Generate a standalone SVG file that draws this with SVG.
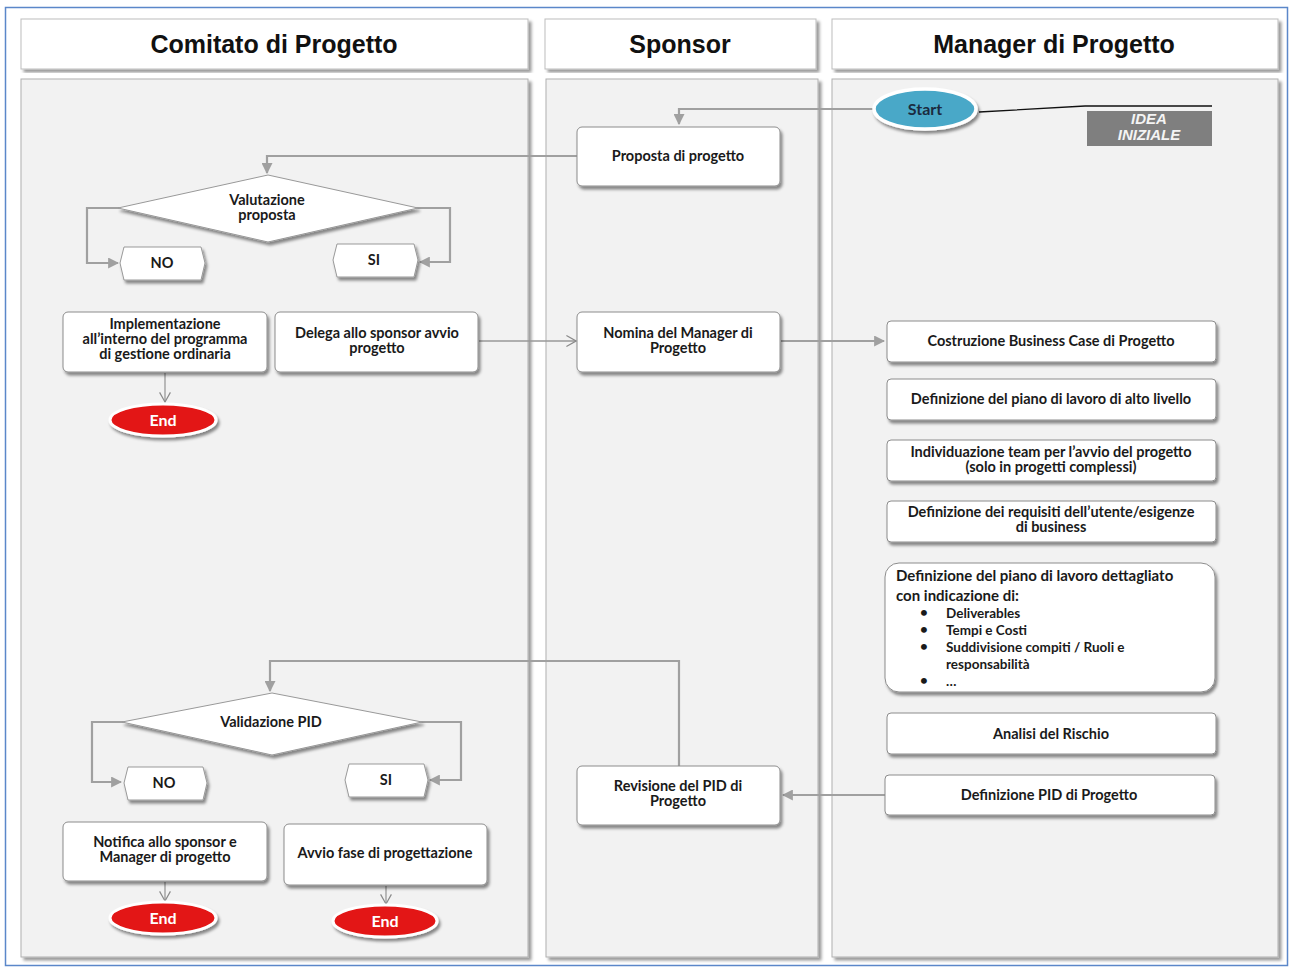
<svg xmlns="http://www.w3.org/2000/svg" width="1293" height="969" viewBox="0 0 1293 969">
<defs>
<filter id="sh" x="-10%" y="-10%" width="125%" height="140%">
<feDropShadow dx="2" dy="3" stdDeviation="1.6" flood-color="#000" flood-opacity="0.45"/>
</filter>
<filter id="shl" x="-5%" y="-5%" width="112%" height="112%">
<feDropShadow dx="3" dy="3" stdDeviation="1.5" flood-color="#000" flood-opacity="0.4"/>
</filter>
<marker id="arr" viewBox="0 0 10 10" refX="9" refY="5" markerWidth="5" markerHeight="5" orient="auto">
<path d="M0,0 L10,5 L0,10 z" fill="#a0a0a0"/>
</marker>
<marker id="chevb" viewBox="0 0 10 10" refX="9" refY="5" markerWidth="12" markerHeight="12" orient="auto" markerUnits="userSpaceOnUse">
<path d="M1,0.5 L9,5 L1,9.5" fill="none" stroke="#8a8a8a" stroke-width="1"/>
</marker>
</defs>
<style>
.hdr{fill:#fff;stroke:#bdbdbd;stroke-width:1;filter:url(#shl)}
.lane{fill:#f2f2f2;stroke:#b0b0b0;stroke-width:1;filter:url(#shl)}
.htx{font-family:"Liberation Sans",Arial,sans-serif;font-weight:bold;font-size:25px;fill:#111;text-anchor:middle}
.box{fill:#fff;stroke:#8c8c8c;stroke-width:1;filter:url(#sh)}
.tx{font-family:Lato,"Liberation Sans",sans-serif;font-weight:bold;font-size:14.5px;fill:#1a1a1a;text-anchor:middle}
.txl{font-family:Lato,"Liberation Sans",sans-serif;font-weight:bold;font-size:15px;fill:#1a1a1a}
.txs{font-family:Lato,"Liberation Sans",sans-serif;font-weight:bold;font-size:13.5px;fill:#1a1a1a}
.end{fill:#e31313;stroke:#fff;stroke-width:3;filter:url(#sh)}
.etx{font-family:Lato,"Liberation Sans",sans-serif;font-weight:bold;font-size:16px;fill:#fff;text-anchor:middle}
.con{fill:none;stroke:#a0a0a0;stroke-width:2.2}
.conc{fill:none;stroke:#999;stroke-width:1.3}
</style>
<rect x="0" y="0" width="1293" height="969" fill="#fff"/>
<rect x="5.5" y="7.5" width="1282" height="958" fill="none" stroke="#5b87c9" stroke-width="1.5"/>

<g id="lane-comitato">
<rect class="hdr" x="21" y="19" width="507" height="50"/>
<text class="htx" x="274" y="53">Comitato di Progetto</text>
<rect class="lane" x="21" y="79" width="507" height="878"/>
</g>
<g id="lane-sponsor">
<rect class="hdr" x="545" y="19" width="271" height="50"/>
<text class="htx" x="680" y="53">Sponsor</text>
<rect class="lane" x="546" y="79" width="272" height="878"/>
</g>
<g id="lane-manager">
<rect class="hdr" x="832" y="19" width="446" height="50"/>
<text class="htx" x="1054" y="53">Manager di Progetto</text>
<rect class="lane" x="832" y="79" width="446" height="878"/>
</g>

<g id="connectors">
<polyline class="con" points="876,109 679,109 679,124" marker-end="url(#arr)"/>
<polyline class="con" points="577,156 267,156 267,173" marker-end="url(#arr)"/>
<polyline class="con" points="120,208 87,208 87,263 118,263" marker-end="url(#arr)"/>
<polyline class="con" points="416,208 450,208 450,262 420,262" marker-end="url(#arr)"/>
<line class="conc" x1="165" y1="373" x2="165" y2="402" marker-end="url(#chevb)"/>
<line class="conc" x1="479" y1="341" x2="576" y2="341" marker-end="url(#chevb)"/>
<line class="con" x1="781" y1="341" x2="884" y2="341" marker-end="url(#arr)"/>
<line class="con" x1="885" y1="795" x2="783" y2="795" marker-end="url(#arr)"/>
<polyline class="con" points="679,766 679,661 270,661 270,691" marker-end="url(#arr)"/>
<polyline class="con" points="124,722 92,722 92,782 121,782" marker-end="url(#arr)"/>
<polyline class="con" points="420,722 461,722 461,780 430,780" marker-end="url(#arr)"/>
<line class="conc" x1="165" y1="882" x2="165" y2="901" marker-end="url(#chevb)"/>
<line class="conc" x1="386" y1="886" x2="386" y2="904" marker-end="url(#chevb)"/>
<polyline fill="none" stroke="#111" stroke-width="1.3" points="979,112 1085,106 1212,106"/>
</g>

<g id="start">
<ellipse cx="925" cy="109" rx="51" ry="20" fill="#4aa8c8" stroke="#fff" stroke-width="3.5" filter="url(#sh)"/>
<text class="etx" x="925" y="115" style="fill:#1b2b3f;font-size:16px">Start</text>
</g>
<g id="idea">
<rect x="1087" y="111" width="125" height="35" fill="#7f7f7f"/>
<text x="1149" y="124" text-anchor="middle" font-family="Liberation Sans,Arial,sans-serif" font-style="italic" font-weight="bold" font-size="15" fill="#f4f4f4">IDEA</text>
<text x="1149" y="140" text-anchor="middle" font-family="Liberation Sans,Arial,sans-serif" font-style="italic" font-weight="bold" font-size="15" fill="#f4f4f4">INIZIALE</text>
</g>

<g id="proposta">
<rect class="box" x="577" y="127" width="203" height="59" rx="5"/>
<text class="tx" x="678" y="161">Proposta di progetto</text>
</g>

<g id="valutazione">
<polygon points="118,208 268,175 418,208 268,242" fill="#fff" stroke="#999" stroke-width="1" filter="url(#sh)"/>
<text class="tx" x="267" y="205">Valutazione</text>
<text class="tx" x="267" y="220">proposta</text>
</g>
<g id="no1">
<polygon points="124,247 201,247 205,263 201,280 124,280 120,263" fill="#fff" stroke="#999" filter="url(#sh)"/>
<text class="tx" x="162" y="268">NO</text>
</g>
<g id="si1">
<polygon points="337,244 414,244 418,260 414,277 337,277 333,260" fill="#fff" stroke="#999" filter="url(#sh)"/>
<text class="tx" x="374" y="265">SI</text>
</g>

<g id="implementazione">
<rect class="box" x="63" y="312" width="204" height="60" rx="5"/>
<text class="tx" x="165" y="329">Implementazione</text>
<text class="tx" x="165" y="344">all’interno del programma</text>
<text class="tx" x="165" y="359">di gestione ordinaria</text>
</g>
<g id="delega">
<rect class="box" x="275" y="312" width="203" height="60" rx="5"/>
<text class="tx" x="377" y="338">Delega allo sponsor avvio</text>
<text class="tx" x="377" y="353">progetto</text>
</g>
<g id="end1">
<ellipse class="end" cx="163" cy="420" rx="53" ry="16"/>
<text class="etx" x="163" y="426">End</text>
</g>

<g id="nomina">
<rect class="box" x="577" y="312" width="203" height="60" rx="5"/>
<text class="tx" x="678" y="338">Nomina del Manager di</text>
<text class="tx" x="678" y="353">Progetto</text>
</g>

<g id="costruzione">
<rect class="box" x="887" y="321" width="329" height="41" rx="4"/>
<text class="tx" x="1051" y="346">Costruzione Business Case di Progetto</text>
</g>
<g id="piano-alto">
<rect class="box" x="887" y="379" width="329" height="41" rx="4"/>
<text class="tx" x="1051" y="404">Definizione del piano di lavoro di alto livello</text>
</g>
<g id="team">
<rect class="box" x="887" y="440" width="329" height="41" rx="4"/>
<text class="tx" x="1051" y="457">Individuazione team per l’avvio del progetto</text>
<text class="tx" x="1051" y="472">(solo in progetti complessi)</text>
</g>
<g id="requisiti">
<rect class="box" x="887" y="501" width="329" height="41" rx="4"/>
<text class="tx" x="1051" y="517">Definizione dei requisiti dell’utente/esigenze</text>
<text class="tx" x="1051" y="532">di business</text>
</g>
<g id="piano-dettagliato">
<rect class="box" x="885" y="563" width="330" height="129" rx="14"/>
<text class="txl" x="896" y="581">Definizione del piano di lavoro dettagliato</text>
<text class="txl" x="896" y="601">con indicazione di:</text>
<text class="txs" x="920" y="617">•</text><text class="txs" x="946" y="618">Deliverables</text>
<text class="txs" x="920" y="634">•</text><text class="txs" x="946" y="635">Tempi e Costi</text>
<text class="txs" x="920" y="651">•</text><text class="txs" x="946" y="652">Suddivisione compiti / Ruoli e</text>
<text class="txs" x="946" y="669">responsabilità</text>
<text class="txs" x="920" y="685">•</text><text class="txs" x="946" y="686">…</text>
</g>
<g id="rischio">
<rect class="box" x="887" y="713" width="329" height="41" rx="4"/>
<text class="tx" x="1051" y="739">Analisi del Rischio</text>
</g>
<g id="pid">
<rect class="box" x="885" y="775" width="330" height="40" rx="4"/>
<text class="tx" x="1049" y="800">Definizione PID di Progetto</text>
</g>

<g id="revisione">
<rect class="box" x="577" y="766" width="203" height="59" rx="5"/>
<text class="tx" x="678" y="791">Revisione del PID di</text>
<text class="tx" x="678" y="806">Progetto</text>
</g>

<g id="validazione">
<polygon points="122,722 272,693 422,722 272,755" fill="#fff" stroke="#999" stroke-width="1" filter="url(#sh)"/>
<text class="tx" x="271" y="727">Validazione PID</text>
</g>
<g id="no2">
<polygon points="128,767 203,767 207,783 203,800 128,800 124,783" fill="#fff" stroke="#999" filter="url(#sh)"/>
<text class="tx" x="164" y="788">NO</text>
</g>
<g id="si2">
<polygon points="349,764 424,764 428,780 424,797 349,797 345,780" fill="#fff" stroke="#999" filter="url(#sh)"/>
<text class="tx" x="386" y="785">SI</text>
</g>
<g id="notifica">
<rect class="box" x="63" y="822" width="204" height="59" rx="5"/>
<text class="tx" x="165" y="847">Notifica allo sponsor e</text>
<text class="tx" x="165" y="862">Manager di progetto</text>
</g>
<g id="avvio">
<rect class="box" x="284" y="824" width="203" height="61" rx="5"/>
<text class="tx" x="385" y="858">Avvio fase di progettazione</text>
</g>
<g id="end2">
<ellipse class="end" cx="163" cy="918" rx="53" ry="16"/>
<text class="etx" x="163" y="924">End</text>
</g>
<g id="end3">
<ellipse class="end" cx="385" cy="921" rx="52" ry="16"/>
<text class="etx" x="385" y="927">End</text>
</g>
</svg>
